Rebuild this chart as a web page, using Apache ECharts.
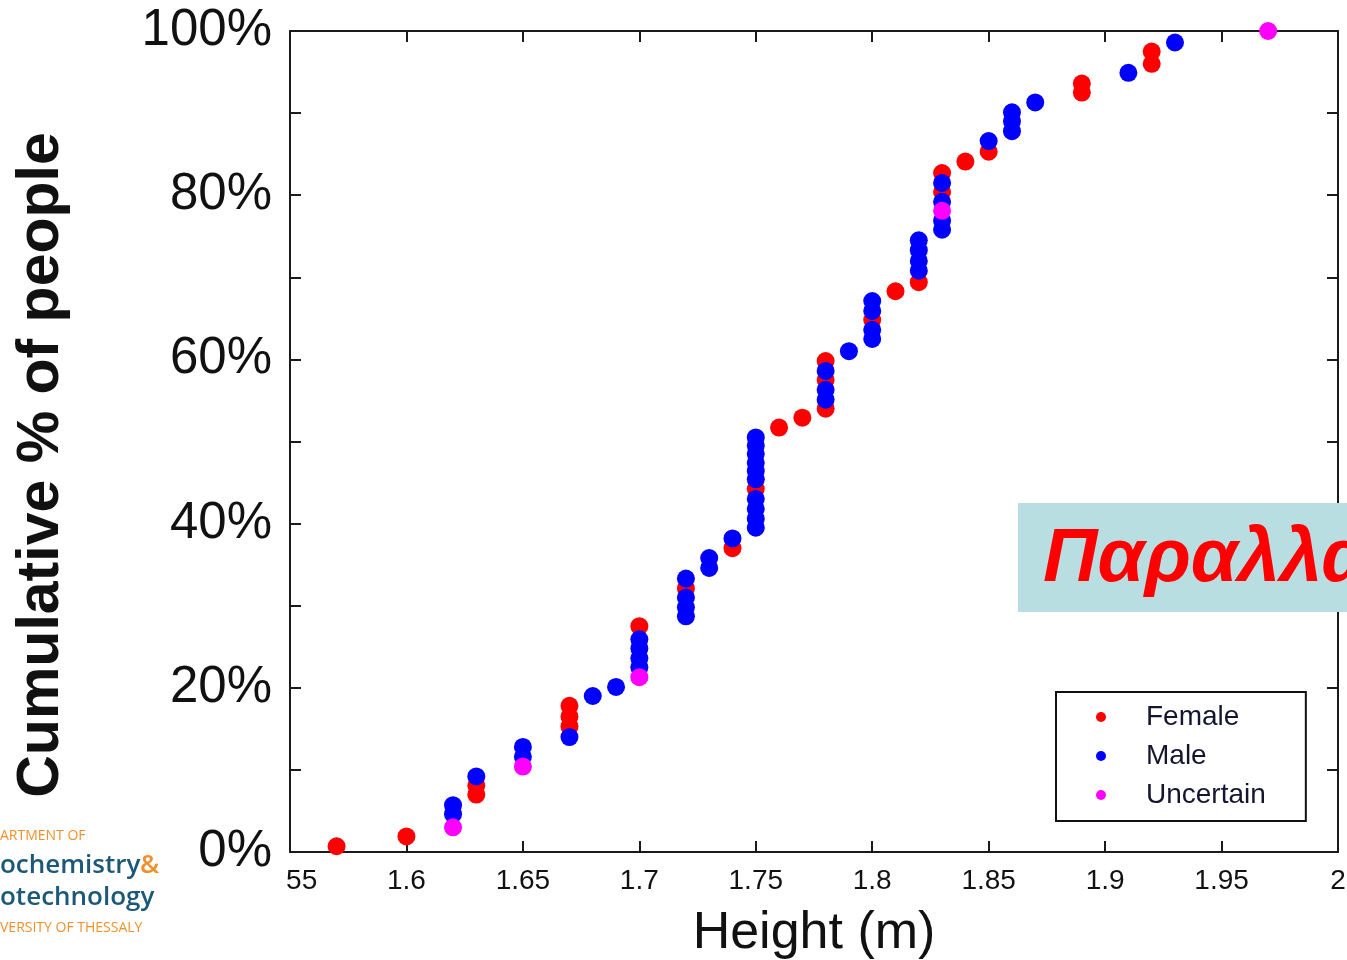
<!DOCTYPE html>
<html>
<head>
<meta charset="utf-8">
<script src="https://cdn.jsdelivr.net/npm/echarts@6/dist/echarts.min.js"></script>
<style>html,body{margin:0;padding:0;background:#fff}#c{width:1347px;height:960px}</style>
</head>
<body>
<div id="c"></div>
<script>
// ---- data ----
const seriesNames = ['Female', 'Male', 'Uncertain'];
const seriesColors = ['#FF0000', '#0000FF', '#FF00FF'];

const femaleHeights = [1.57, 1.60, 1.63, 1.63, 1.67, 1.67, 1.67, 1.70, 1.72, 1.74, 1.75, 1.76, 1.77, 1.78, 1.78, 1.78, 1.80, 1.81, 1.82, 1.83, 1.83, 1.84, 1.85, 1.89, 1.89, 1.92, 1.92];
const femalePct = [0.7, 1.9, 7.0, 8.1, 15.3, 16.5, 17.8, 27.5, 32.1, 37.0, 44.2, 51.7, 52.9, 54.0, 57.5, 59.8, 64.8, 68.3, 69.4, 80.4, 82.7, 84.1, 85.3, 92.5, 93.6, 96.0, 97.5];

const maleHeights = [1.62, 1.62, 1.63, 1.65, 1.65, 1.67, 1.68, 1.69,
  1.70, 1.70, 1.70, 1.70, 1.72, 1.72, 1.72, 1.72, 1.73, 1.73, 1.74,
  1.75, 1.75, 1.75, 1.75, 1.75, 1.75, 1.75, 1.75, 1.75, 1.75,
  1.78, 1.78, 1.78, 1.79, 1.80, 1.80, 1.80, 1.80,
  1.82, 1.82, 1.82, 1.82, 1.83, 1.83, 1.83, 1.83,
  1.85, 1.86, 1.86, 1.86, 1.87, 1.91, 1.93];
const malePct = [4.6, 5.7, 9.2, 11.6, 12.8, 14.0, 19.0, 20.1,
  22.5, 23.6, 24.8, 25.9, 28.7, 29.8, 31.0, 33.3, 34.6, 35.8, 38.2,
  39.5, 40.6, 41.8, 43.0, 45.4, 46.4, 47.4, 48.5, 49.5, 50.5,
  55.1, 56.3, 58.6, 61.0, 62.5, 63.6, 65.9, 67.1,
  70.8, 72.0, 73.3, 74.5, 75.8, 76.9, 79.2, 81.5,
  86.6, 87.8, 89.0, 90.1, 91.3, 94.9, 98.6];

const uncertainHeights = [1.62, 1.65, 1.70, 1.83, 1.97];
const uncertainPct = [3.0, 10.4, 21.3, 78.1, 100.0];

const xMin = 1.55, xMax = 2.0, xStep = 0.05;
const yMin = 0, yMax = 100, yStep = 10;
const yLabelledTicks = [0, 20, 40, 60, 80, 100];

const xTitle = 'Height (m)';
const yTitle = 'Cumulative % of people';
const bannerText = 'Παραλλαγή';
const logoLines = ['ARTMENT OF', 'ochemistry', '&', 'otechnology', 'VERSITY OF THESSALY'];

// ---- chart ----
function zip(xs, ys) { return xs.map((x, i) => [x, ys[i]]); }
const seriesData = [zip(femaleHeights, femalePct), zip(maleHeights, malePct), zip(uncertainHeights, uncertainPct)];

const axisColor = '#1a1a1a';
const chart = echarts.init(document.getElementById('c'), null, {renderer: 'canvas'});

const baseX = {
  type: 'value', min: xMin, max: xMax, interval: xStep,
  axisLine: {show: true, onZero: false, lineStyle: {color: axisColor, width: 2}},
  axisTick: {show: true, inside: true, length: 11, lineStyle: {color: axisColor, width: 2}},
  splitLine: {show: false}
};
const baseY = {
  type: 'value', min: yMin, max: yMax, interval: yStep,
  axisLine: {show: true, onZero: false, lineStyle: {color: axisColor, width: 2}},
  axisTick: {show: true, inside: true, length: 11, lineStyle: {color: axisColor, width: 2}},
  splitLine: {show: false}
};

function xLabel(v) {
  const s = String(+(+v).toFixed(2));
  // the leading "1." of the first tick is hidden behind the white logo area in the original slide
  if (Math.abs(v - xMin) < 1e-9) return '{hid|1.}{v|55}';
  return '{v|' + s + '}';
}

chart.setOption({
  animation: false,
  backgroundColor: '#ffffff',
  grid: {left: 290, right: 9, top: 31, bottom: 108, containLabel: false, outerBoundsMode: 'none'},
  xAxis: [
    Object.assign({}, baseX, {
      position: 'bottom',
      name: xTitle, nameLocation: 'middle', nameGap: 56,
      nameTextStyle: {fontFamily: 'Liberation Sans', fontSize: 52, color: '#111'},
      axisLabel: {show: true, margin: 15, formatter: xLabel,
        rich: {
          v: {fontFamily: 'Liberation Sans', fontSize: 28, color: '#111'},
          hid: {fontFamily: 'Liberation Sans', fontSize: 28, color: '#ffffff'}
        }}
    }),
    Object.assign({}, baseX, {position: 'top', axisLabel: {show: false}})
  ],
  yAxis: [
    Object.assign({}, baseY, {
      position: 'left',
      axisLabel: {show: true, margin: 18, fontFamily: 'Liberation Sans', fontSize: 51, color: '#111',
        formatter: v => yLabelledTicks.indexOf(Math.round(v)) >= 0 ? Math.round(v) + '%' : ''}
    }),
    Object.assign({}, baseY, {position: 'right', axisLabel: {show: false}})
  ],
  legend: {
    orient: 'vertical', left: 1056, top: 692,
    data: seriesNames,
    icon: 'circle', itemWidth: 10, itemHeight: 10, itemGap: 11,
    padding: [11, 40, 12, 40],
    borderColor: '#111', borderWidth: 2, backgroundColor: '#fff',
    textStyle: {fontFamily: 'Liberation Sans', fontSize: 28, color: '#151530', padding: [0, 0, 0, 35]}
  },
  series: seriesNames.map((n, i) => ({
    name: n, type: 'scatter', xAxisIndex: 0, yAxisIndex: 0,
    data: seriesData[i], symbol: 'circle', symbolSize: 18, clip: false,
    itemStyle: {color: seriesColors[i], opacity: 1},
    emphasis: {disabled: true}
  })),
  graphic: [
    {type: 'text', z: 100, x: 42, y: 465, rotation: Math.PI / 2,
      style: {text: yTitle, fill: '#111', font: 'bold 59px "Liberation Sans"', textAlign: 'center', textVerticalAlign: 'middle'}},
    {type: 'rect', z: 100, shape: {x: 1018, y: 503, width: 340, height: 109}, style: {fill: '#B9DEE1'}},
    {type: 'text', z: 101, x: 1043, y: 560,
      style: {text: bannerText, fill: '#FF0000', font: 'italic bold 76px "Liberation Sans"', textAlign: 'left', textVerticalAlign: 'middle'}},
    {type: 'text', z: 101, x: 0, y: 836, style: {text: logoLines[0], fill: '#F0902A', font: '14px "Open Sans"', textVerticalAlign: 'middle'}},
    {type: 'text', z: 101, x: 0, y: 866, style: {text: logoLines[1], fill: '#1C5878', font: '600 26px "Open Sans"', textVerticalAlign: 'middle'}},
    {type: 'text', z: 101, x: 140, y: 866, style: {text: logoLines[2], fill: '#F0902A', font: '600 26px "Open Sans"', textVerticalAlign: 'middle'}},
    {type: 'text', z: 101, x: 0, y: 898, style: {text: logoLines[3], fill: '#1C5878', font: '600 26px "Open Sans"', textVerticalAlign: 'middle'}},
    {type: 'text', z: 101, x: 0, y: 928, style: {text: logoLines[4], fill: '#F0902A', font: '14px "Open Sans"', textVerticalAlign: 'middle'}}
  ]
});
</script>
</body>
</html>
